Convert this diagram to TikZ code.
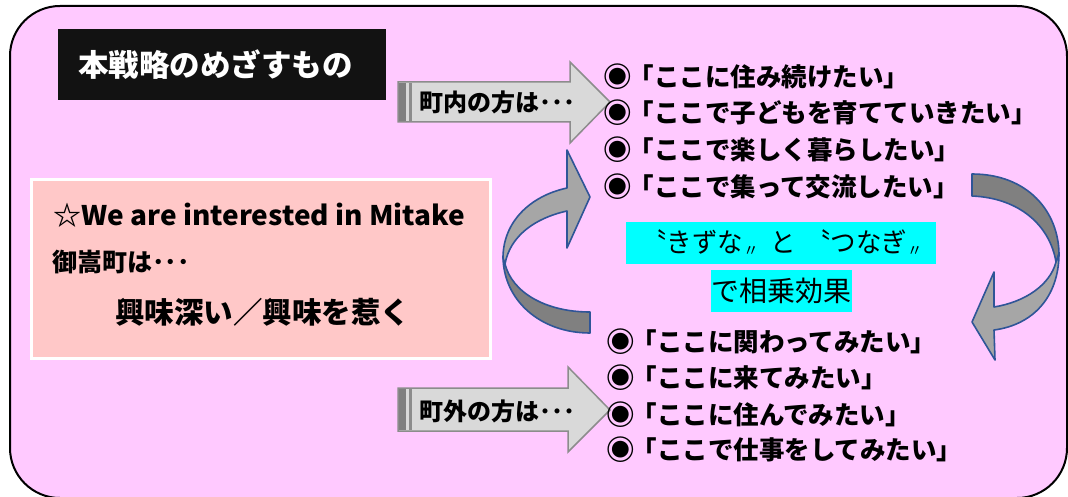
\documentclass[tikz,border=0pt]{standalone}
\usepackage{fontspec}
\setmainfont{Noto Sans CJK JP}
\usepackage{graphicx}
\definecolor{bgpink}{HTML}{FFC9FF}
\definecolor{boxpink}{HTML}{FFC8C8}
\definecolor{arrowfill}{HTML}{D9D9D9}
\definecolor{arrowline}{HTML}{8C8C8C}
\definecolor{stripe}{HTML}{7F7F7F}
\definecolor{cyanbox}{HTML}{00FFFF}
\definecolor{curvelight}{HTML}{A6A6A6}
\definecolor{curvedark}{HTML}{808080}
\definecolor{curveline}{HTML}{2F5597}
\newcommand{\mybul}{\raisebox{-0.04em}{\scalebox{1.12}{◉}}\hspace{-0.12em}}
\newcommand{\lowq}{\raisebox{-0.12em}{\scalebox{0.6}{〃}}}
\tikzset{
  txt/.style={anchor=west, inner sep=0pt, font=\fontsize{25.5}{30}\selectfont\bfseries},
  arrtxt/.style={anchor=west, inner sep=0pt, font=\fontsize{24}{28}\selectfont\bfseries},
  blockarrow/.style={fill=arrowfill, draw=arrowline, line width=1.5pt, line join=miter},
  curvearrow/.style={draw=curveline, line width=1.6pt, line join=round},
}
\begin{document}
\begin{tikzpicture}[x=1pt,y=-1pt]
\useasboundingbox (0,0) rectangle (1068,497);
% outer frame
\draw[fill=bgpink, line width=2pt, rounded corners=50pt] (10,6) rectangle (1067,498);

% title
\node[fill=black!93, minimum width=328pt, minimum height=71pt, anchor=north west, inner sep=0pt] (titlebox) at (58,29) {};
\node[anchor=west, inner sep=0pt, text=white, font=\fontsize{30.5}{34}\selectfont\bfseries] (title) at (78,65) {本戦略のめざすもの};

% pink box
\node[fill=boxpink, draw=white, line width=3pt, minimum width=459pt, minimum height=178pt, anchor=north west, inner sep=0pt] (pinkbox) at (29.5,178.5) {};
\node[anchor=west, inner sep=0pt, font=\fontsize{27}{30}\selectfont\bfseries] (we) at (53,215) {\resizebox{412pt}{\height}{☆We are interested in Mitake}};
\node[anchor=west, inner sep=0pt, font=\fontsize{25}{28}\selectfont\bfseries] (mitake) at (52,262) {御嵩町は･･･};
\node[anchor=west, inner sep=0pt, font=\fontsize{29.5}{32}\selectfont\bfseries] (kyomi) at (115,312) {興味深い／興味を惹く};

% top block arrow
\draw[blockarrow] (398,82) -- (570,82) -- (570,62) -- (610,102) -- (570,143) -- (570,122) -- (398,122) -- cycle;
\fill[stripe] (398.75,82.75) rectangle (406,121.25);
\fill[arrowline] (409,82.75) rectangle (411.5,121.25);
\node[arrtxt] (uchi) at (419,102) {町内の方は･･･};

% bottom block arrow
\draw[blockarrow] (398,388) -- (568,388) -- (568,367) -- (610,410) -- (568,452) -- (568,431) -- (398,431) -- cycle;
\fill[stripe] (398.75,388.75) rectangle (406,430.25);
\fill[arrowline] (409,388.75) rectangle (411.5,430.25);
\node[arrtxt] (soto) at (419,411) {町外の方は･･･};

% top list
\node[txt] (t1) at (603,77) {\mybul「ここに住み続けたい」};
\node[txt] (t2) at (603,113) {\mybul「ここで子どもを育てていきたい」};
\node[txt] (t3) at (603,150) {\mybul「ここで楽しく暮らしたい」};
\node[txt] (t4) at (603,187) {\mybul「ここで集って交流したい」};

% bottom list
\node[txt] (b1) at (606,342) {\mybul「ここに関わってみたい」};
\node[txt] (b2) at (606,378) {\mybul「ここに来てみたい」};
\node[txt] (b3) at (606,415) {\mybul「ここに住んでみたい」};
\node[txt] (b4) at (606,450) {\mybul「ここで仕事をしてみたい」};

% cyan boxes
\node[fill=cyanbox, minimum width=310pt, minimum height=42pt, anchor=north west, inner sep=0pt] (c1) at (626,222) {};
\node[inner sep=0pt, font=\fontsize{27}{30}\selectfont] (c1t) at (782,243) {\resizebox{281pt}{\height}{〝きずな\lowq\ \ と \,〝つなぎ\lowq}};
\node[fill=cyanbox, minimum width=141pt, minimum height=42pt, anchor=north west, inner sep=0pt] (c2) at (711,270) {};
\node[inner sep=0pt, font=\fontsize{28}{30}\selectfont] (c2t) at (781.5,291) {で相乗効果};

% left curved arrow
\filldraw[curvearrow, fill=curvedark] (503,256) .. controls (503,300) and (540,333) .. (590,333) -- (590,312) .. controls (545,312) and (512,292) .. (505,264) -- cycle;
\filldraw[curvearrow, fill=curvelight] (503,258) .. controls (503,222) and (530,196) .. (567,188) -- (567,150) -- (590,197) -- (567,248) -- (567,211) .. controls (535,218) and (510,236) .. (505,264) -- cycle;

% right curved arrow
\filldraw[curvearrow, fill=curvedark] (972,174) .. controls (1028,174) and (1059,212) .. (1059,255) -- (1056,262) .. controls (1050,226) and (1020,198) .. (972,196) -- cycle;
\filldraw[curvearrow, fill=curvelight] (1059,253) .. controls (1059,298) and (1032,325) .. (994,330) -- (995,360) -- (972,322) -- (994,272) -- (994,307) .. controls (1025,302) and (1050,285) .. (1056,262) -- cycle;
\end{tikzpicture}
\end{document}
